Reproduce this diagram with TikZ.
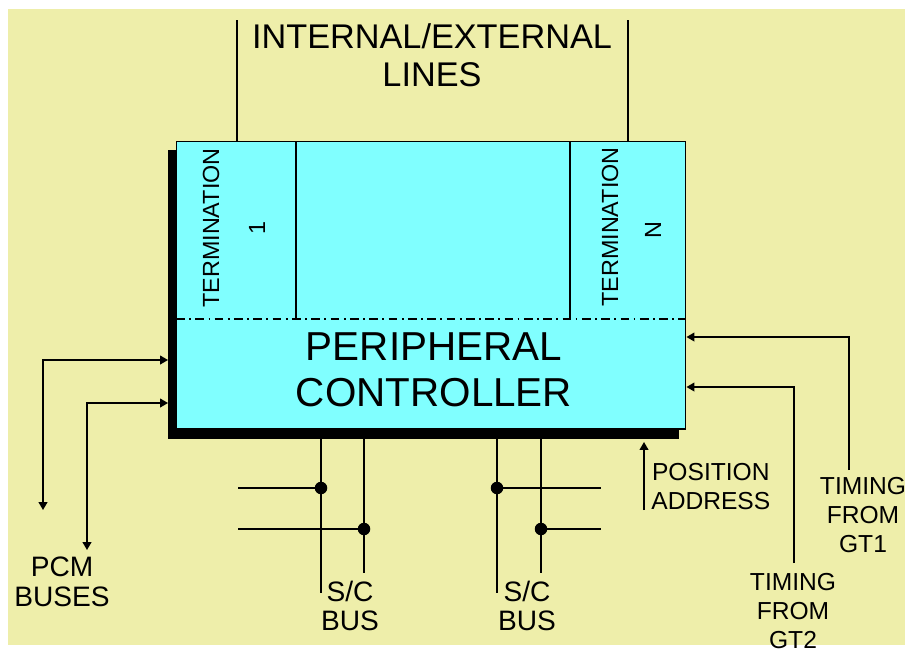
\documentclass[tikz,border=0pt]{standalone}
\usepackage{fontspec}
\setmainfont{Liberation Sans}
\usetikzlibrary{
  arrows.meta, % For arrow tips
  positioning
}
\definecolor{paper}{HTML}{EEEEAA}
\definecolor{cardcyan}{HTML}{80FFFF}

\begin{document}
\begin{tikzpicture}[
      x=0.02cm, y=-0.02cm, % one unit = one pixel of the sketch
      wire/.style={line width=0.8pt}, % Default line
      sig/.style={wire, -{Triangle[length=4.5pt,width=5pt]}}, % Signal arrows
      twoway/.style={wire, {Triangle[length=4.5pt,width=5pt]}-{Triangle[length=4.5pt,width=5pt]}},
      tap/.style={circle, fill, inner sep=0pt, minimum size=0.25cm}, % bus taps
      card/.style={draw, line width=0.6pt, fill=cardcyan, inner sep=0pt},
      dashdot/.style={wire, dash pattern=on 5pt off 2.5pt on 1pt off 2.5pt},
      lbl/.style={font=\fontsize{14}{16.5}\selectfont, align=center, inner sep=0pt},
      buslbl/.style={font=\fontsize{16}{17}\selectfont, align=center, inner sep=0pt},
      sidelbl/.style={font=\fontsize{13.3}{26}\selectfont, rotate=90, inner sep=0pt},
    ]

    % Hintergrund
    \useasboundingbox (0,0) rectangle (905,656);
    \fill[white] (0,0) rectangle (905,656);
    \fill[paper] (8,9) rectangle (905,645);

    % Schatten und Baugruppe
    \node (shade) [fill=black, inner sep=0pt, minimum width=10.22cm, minimum height=5.78cm] at (423.5,294.5) {};
    \node (pc) [card, minimum width=10.2cm, minimum height=5.76cm] at (431,285) {};

    % Anschlussfelder
    \draw[wire] (296,141) -- (296,319);
    \draw[wire] (570,141) -- (570,319);
    \draw[dashdot] (176,319) -- (686,319);

    \node (term1) [sidelbl] at (211,228) {TERMINATION};
    \node (num1) [sidelbl] at (257,228) {1};
    \node (termN) [sidelbl] at (610,227) {TERMINATION};
    \node (numN) [sidelbl] at (653,230) {N};

    \node (ctrl) [font=\fontsize{23}{26}\selectfont, align=center, inner sep=0pt] at (434,370) {PERIPHERAL\\CONTROLLER};

    % Leitungen oben
    \node (lines) [font=\fontsize{19.5}{21.5}\selectfont, align=center, inner sep=0pt] at (432,55) {INTERNAL/EXTERNAL\\LINES};
    \coordinate (top1) at (237,20);
    \coordinate (top2) at (628,20);
    \draw[wire] (top1) -- (top1 |- pc.north);
    \draw[wire] (top2) -- (top2 |- pc.north);

    % PCM-Busse
    \coordinate (pcm1) at (43,510);
    \coordinate (pcm2) at (87,550);
    \coordinate (in1) at (168,360);
    \coordinate (in2) at (168,403);
    \draw[twoway] (pcm1) |- (in1);
    \draw[twoway] (pcm2) |- (in2);
    \node (pcm) [buslbl] at (62,582) {PCM\\BUSES};

    % S/C-Busse
    \foreach \xa/\xb/\side in {321/364/left, 497/541/right} {
      \draw[wire] (\xa,439) -- (\xa,593);
      \draw[wire] (\xb,439) -- (\xb,573);
      \node[tap] (tapa-\side) at (\xa,488) {};
      \node[tap] (tapb-\side) at (\xb,529) {};
    }
    \draw[wire] (238,488) -- (tapa-left.center);
    \draw[wire] (238,529) -- (tapb-left.center);
    \draw[wire] (tapa-right.center) -- (601,488);
    \draw[wire] (tapb-right.center) -- (601,529);
    \node (scbus1) [buslbl] at (350,606) {S/C\\BUS};
    \node (scbus2) [buslbl] at (527,606) {S/C\\BUS};

    % Positionsadresse
    \coordinate (pos) at (644,510);
    \draw[sig] (pos) -- (644,442);
    \node (posaddr) [lbl, anchor=west] at (651,487) {POSITION\\ADDRESS};

    % Takt von GT1 / GT2
    \coordinate (gt1) at (849,470);
    \coordinate (gt2) at (794,563);
    \draw[sig] (gt1) |- (pc.east |- 0,337);
    \draw[sig] (gt2) |- (pc.east |- 0,387);
    \node (timing1) [lbl] at (863,515) {TIMING\\FROM\\GT1};
    \node (timing2) [lbl] at (793,611) {TIMING\\FROM\\GT2};

  \end{tikzpicture}
\end{document}
